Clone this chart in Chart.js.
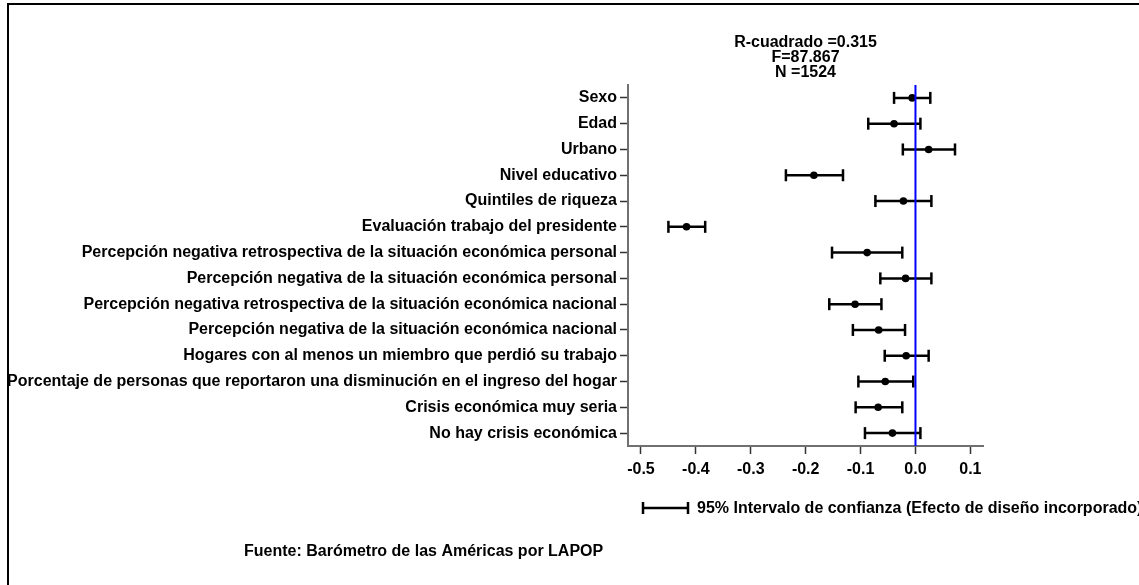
<!DOCTYPE html>
<html>
<head>
<meta charset="utf-8">
<script src="https://cdn.jsdelivr.net/npm/chart.js@4/dist/chart.umd.min.js"></script>
<style>
html,body{margin:0;padding:0;background:#fff;}
canvas{display:block;}
</style>
</head>
<body>
<canvas id="c" width="1139" height="585"></canvas>
<script>
const categories = [
  'Sexo',
  'Edad',
  'Urbano',
  'Nivel educativo',
  'Quintiles de riqueza',
  'Evaluación trabajo del presidente',
  'Percepción negativa retrospectiva de la situación económica personal',
  'Percepción negativa de la situación económica personal',
  'Percepción negativa retrospectiva de la situación económica nacional',
  'Percepción negativa de la situación económica nacional',
  'Hogares con al menos un miembro que perdió su trabajo',
  'Porcentaje de personas que reportaron una disminución en el ingreso del hogar',
  'Crisis económica muy seria',
  'No hay crisis económica'
];
const estimates = [-0.006, -0.039, 0.024, -0.185, -0.022, -0.417, -0.088, -0.018, -0.110, -0.067, -0.017, -0.055, -0.068, -0.042];
const lower     = [-0.039, -0.086, -0.023, -0.236, -0.073, -0.450, -0.152, -0.064, -0.157, -0.114, -0.056, -0.104, -0.109, -0.092];
const upper     = [ 0.027,  0.009,  0.072, -0.132,  0.029, -0.383, -0.024,  0.029, -0.062, -0.019,  0.024, -0.004, -0.024,  0.009];
const xTickLabels = ['-0.5', '-0.4', '-0.3', '-0.2', '-0.1', '0.0', '0.1'];
const statsLines = ['R-cuadrado =0.315', 'F=87.867', 'N =1524'];
const legendText = '95% Intervalo de confianza (Efecto de diseño incorporado)';
const sourceText = 'Fuente: Barómetro de las Américas por LAPOP';

const FONT = '"Liberation Sans", Arial, Helvetica, sans-serif';

const ciData = categories.flatMap((c, i) => [
  {x: lower[i], y: c}, {x: upper[i], y: c}, {x: null, y: null}
]);
const estData = categories.map((c, i) => ({x: estimates[i], y: c}));

const decorPlugin = {
  id: 'decor',
  beforeDraw(chart) {
    const ctx = chart.ctx;
    ctx.save();
    ctx.fillStyle = '#000';
    ctx.fillRect(7, 3, chart.width - 7, 2);
    ctx.fillRect(7, 3, 2, chart.height - 3);
    ctx.restore();
  },
  afterDatasetsDraw(chart) {
    const ctx = chart.ctx;
    const xs = chart.scales.x;
    const a = chart.chartArea;
    const x0 = xs.getPixelForValue(0);
    ctx.save();
    ctx.strokeStyle = '#0000ff';
    ctx.lineWidth = 2;
    ctx.beginPath();
    ctx.moveTo(x0, a.top);
    ctx.lineTo(x0, a.bottom);
    ctx.stroke();
    ctx.restore();
  },
  afterDraw(chart) {
    const ctx = chart.ctx;
    ctx.save();
    const ly = 508, lx1 = 643, lx2 = 688;
    ctx.strokeStyle = '#000';
    ctx.lineWidth = 2.5;
    ctx.beginPath();
    ctx.moveTo(lx1, ly); ctx.lineTo(lx2, ly);
    ctx.moveTo(lx1, ly - 6); ctx.lineTo(lx1, ly + 6);
    ctx.moveTo(lx2, ly - 6); ctx.lineTo(lx2, ly + 6);
    ctx.stroke();
    ctx.fillStyle = '#000';
    ctx.font = 'bold 16px ' + FONT;
    ctx.textBaseline = 'middle';
    ctx.textAlign = 'left';
    ctx.fillText(legendText, 697, ly + 1);
    ctx.fillText(sourceText, 244, 552);
    ctx.restore();
  }
};

new Chart(document.getElementById('c'), {
  type: 'scatter',
  data: {
    datasets: [
      {
        data: ciData,
        showLine: true,
        spanGaps: false,
        borderColor: '#000',
        borderWidth: 2.5,
        pointStyle: 'line',
        rotation: 90,
        pointRadius: 6,
        pointBorderWidth: 2.5,
        pointBorderColor: '#000',
        pointBackgroundColor: '#000'
      },
      {
        data: estData,
        pointStyle: 'circle',
        pointRadius: 3.8,
        pointBackgroundColor: '#000',
        pointBorderColor: '#000',
        pointBorderWidth: 0
      }
    ]
  },
  options: {
    responsive: false,
    animation: false,
    clip: false,
    layout: {padding: {left: 0, right: 156, top: 0, bottom: 99}},
    plugins: {
      legend: {display: false},
      tooltip: {enabled: false},
      title: {
        display: true,
        fullSize: false,
        text: statsLines,
        color: '#000',
        font: {family: FONT, size: 16, weight: 'bold', lineHeight: 0.9375},
        padding: {top: 35, bottom: 5}
      }
    },
    scales: {
      x: {
        type: 'linear',
        min: -0.5236,
        max: 0.123,
        afterFit(scale) { scale.height = 40; },
        border: {display: true, color: '#707070', width: 2},
        grid: {drawOnChartArea: false, drawTicks: true, tickLength: 8, tickColor: '#333', tickWidth: 1.5},
        ticks: {
          stepSize: 0.1,
          includeBounds: false,
          padding: 6,
          color: '#000',
          font: {family: FONT, size: 16, weight: 'bold'},
          maxRotation: 0,
          autoSkip: false,
          callback: (v, i) => xTickLabels[i]
        }
      },
      y: {
        type: 'category',
        labels: categories,
        offset: true,
        afterFit(scale) { scale.width = 628; },
        border: {display: true, color: '#707070', width: 2},
        grid: {drawOnChartArea: false, drawTicks: true, tickLength: 8, tickColor: '#333', tickWidth: 1.5, offset: false},
        ticks: {
          padding: 3,
          color: '#000',
          autoSkip: false,
          font: {family: FONT, size: 16, weight: 'bold'}
        }
      }
    }
  },
  plugins: [decorPlugin]
});
</script>
</body>
</html>
